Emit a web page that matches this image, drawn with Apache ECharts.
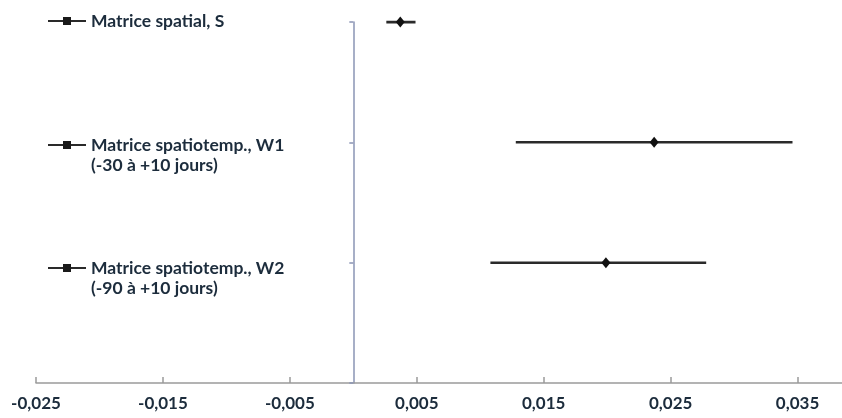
<!DOCTYPE html>
<html>
<head>
<meta charset="utf-8">
<script src="https://cdn.jsdelivr.net/npm/echarts@6/dist/echarts.min.js"></script>
<style>html,body{margin:0;padding:0;background:#fff}#c{width:842px;height:418px}</style>
</head>
<body>
<div id="c"></div>
<script>
var names = ['Matrice spatial, S', 'Matrice spatiotemp., W1', 'Matrice spatiotemp., W2'];
var subLabels = ['', '(-30 à +10 jours)', '(-90 à +10 jours)'];
var yPos = [3, 2, 1];
var estimates = [0.0037, 0.0237, 0.0199];
var lowerBounds = [0.0026, 0.0128, 0.0108];
var upperBounds = [0.0049, 0.0346, 0.0278];
var xTicks = [-0.025, -0.015, -0.005, 0.005, 0.015, 0.025, 0.035];

var fmt = function (v) { return '{t|' + v.toFixed(3).replace('.', ',') + '}'; };
var font = 'Lato, "Open Sans", sans-serif';
var legendTops = [6, 110, 233];

var series = names.map(function (n, i) {
  return {
    name: n,
    type: 'line',
    symbol: 'rect',
    symbolSize: 10,
    color: '#1a1a1a',
    lineStyle: { color: '#2a2a2a', width: i === 0 ? 3 : 2.5 },
    silent: true,
    animation: false,
    data: [
      { value: [lowerBounds[i], yPos[i]], symbol: 'none' },
      { value: [estimates[i], yPos[i]], symbol: 'diamond', symbolSize: [9, 11], itemStyle: { color: '#111' } },
      { value: [upperBounds[i], yPos[i]], symbol: 'none' }
    ]
  };
});

var legends = names.map(function (n, i) {
  var two = subLabels[i] !== '';
  return {
    data: [n],
    left: 42,
    top: legendTops[i],
    itemWidth: 38,
    itemHeight: 10,
    itemGap: 5,
    selectedMode: false,
    formatter: function (name) { return two ? ' \n' + name + '\n' + subLabels[i] : name; },
    textStyle: {
      fontFamily: font, fontSize: 17.5, fontWeight: 'bold', color: '#1c2c3c',
      lineHeight: 20
    }
  };
});

var chart = echarts.init(document.getElementById('c'));
chart.setOption({
  animation: false,
  backgroundColor: '#ffffff',
  grid: { left: 36, right: 0, top: 22, bottom: 35, containLabel: false },
  legend: legends,
  xAxis: {
    type: 'value',
    min: -0.025,
    max: 0.0385,
    splitLine: { show: false },
    axisLine: { show: true, onZero: false, lineStyle: { color: '#9a9a9a', width: 1.5 } },
    axisTick: { show: true, inside: true, length: 6, customValues: xTicks, lineStyle: { color: '#9a9a9a', width: 1.5 } },
    axisLabel: {
      customValues: xTicks, formatter: fmt, margin: 12,
      fontFamily: font, fontSize: 17, fontWeight: 'bold', color: '#1c2c3c',
      rich: { t: { fontFamily: font, fontSize: 17, fontWeight: 'bold', color: '#1c2c3c' } }
    }
  },
  yAxis: {
    type: 'value',
    min: 0,
    max: 3,
    interval: 1,
    splitLine: { show: false },
    axisLine: { show: true, onZero: true, lineStyle: { color: '#8a94b4', width: 1.5 } },
    axisTick: { show: true, length: 4, lineStyle: { color: '#8a94b4', width: 1.5 } },
    axisLabel: { show: false }
  },
  series: series
});
</script>
</body>
</html>
